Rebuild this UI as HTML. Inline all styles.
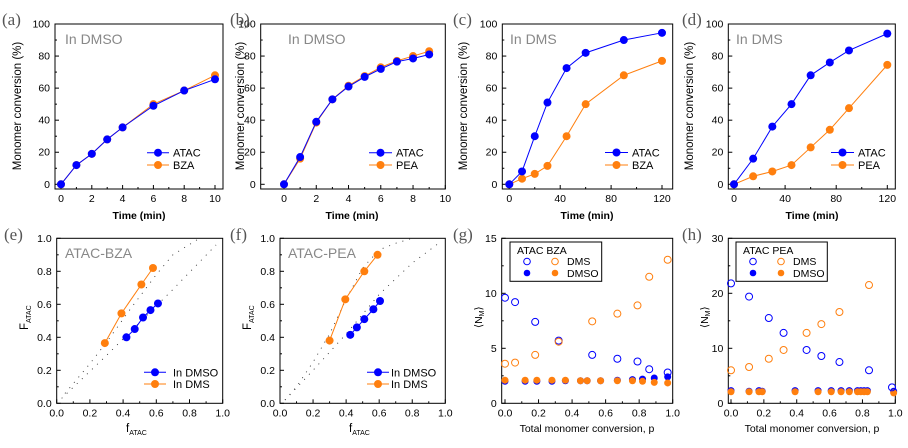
<!DOCTYPE html>
<html><head><meta charset="utf-8"><style>
html,body{margin:0;padding:0;background:#fff;width:908px;height:448px;overflow:hidden}
svg{display:block;font-family:"Liberation Sans",Arial,sans-serif}
</style></head><body>
<svg id="fig" width="908" height="448" viewBox="0 0 908 448" xmlns="http://www.w3.org/2000/svg"></svg>
<script>
// ---- data ----
const aT=[0,1,2,3,4,6,8,10];
const aATAC=[0,12,19,28,35.5,49,58.5,65.5];
const aBZA=[0,12,19,28,35.5,50,58.5,68];
const bT=[0,1,2,3,4,5,6,7,8,9];
const bATAC=[0,17,39,53,61,67,72,76.5,78.5,81];
const bPEA=[0,16,38.5,53,61.5,67.5,73,77,80,83];
const cT=[0,10,20,30,45,60,90,120];
const cATAC=[0,8,30,51,72.5,82,90,94.5];
const cBZA=[0,3.5,6.5,11.5,30,50,68,77];
const dT=[0,15,30,45,60,75,90,120];
const dATAC=[0,16,36,50,68,76,83.5,94];
const dPEA=[0,5,8,12,23,34,47.5,74.5];
const eDMSOf=[0.42,0.47,0.52,0.565,0.61];
const eDMSOF=[0.40,0.45,0.52,0.565,0.605];
const eDMSf=[0.29,0.39,0.51,0.58];
const eDMSF=[0.365,0.545,0.72,0.82];
const eFitLoF=[0.03,0.3,0.5,0.7,0.96];
const eFitLoFF=[0.03,0.29,0.49,0.69,0.96];
const eFitHiF=[0.05,0.2,0.3,0.45,0.6,0.7,0.86];
const eFitHiFF=[0.06,0.24,0.37,0.58,0.78,0.9,1.0];
const fDMSOf=[0.425,0.465,0.51,0.565,0.605];
const fDMSOF=[0.415,0.46,0.51,0.57,0.62];
const fDMSf=[0.30,0.395,0.51,0.59];
const fDMSF=[0.38,0.63,0.80,0.90];
const fFitLoF=[0.03,0.2,0.4,0.6,0.8,0.96];
const fFitLoFF=[0.02,0.2,0.42,0.66,0.85,0.97];
const fFitHiF=[0.03,0.1,0.2,0.3,0.4,0.5,0.6,0.7,0.8];
const fFitHiFF=[0.02,0.1,0.25,0.42,0.63,0.82,0.93,0.97,1.0];
const gOpenP=[0.0,0.06,0.18,0.32,0.52,0.67,0.79,0.86,0.97];
const gOpenATAC=[9.6,9.2,7.4,5.7,4.4,4.05,3.8,3.1,2.8];
const gOpenBZA=[3.6,3.7,4.4,5.6,7.45,8.15,8.9,11.5,13.05];
const gFillP=[0,0.12,0.19,0.28,0.36,0.45,0.49,0.57,0.67,0.76,0.82,0.89,0.97];
const gFillATAC=[2.0,2.0,2.0,2.0,2.05,2.05,2.05,2.05,2.1,2.15,2.2,2.3,2.4];
const gFillBZA=[2.1,2.1,2.1,2.1,2.1,2.05,2.05,2.05,2.05,2.05,2.0,1.9,1.85];
const hOpenP=[0.0,0.11,0.23,0.32,0.46,0.55,0.66,0.84,0.98];
const hOpenATAC=[21.8,19.4,15.5,12.8,9.7,8.6,7.5,6.0,2.9];
const hOpenPEA=[6.0,6.6,8.1,9.7,12.8,14.4,16.6,21.5,2.0];
const hFillP=[0,0.11,0.17,0.19,0.39,0.53,0.61,0.67,0.72,0.77,0.79,0.81,0.83,0.99];
const hFillATAC=[2.3,2.2,2.3,2.2,2.3,2.3,2.3,2.3,2.3,2.3,2.3,2.3,2.3,2.2];
const hFillPEA=[2.1,2.1,2.1,2.1,2.1,2.1,2.1,2.1,2.1,2.1,2.1,2.1,2.1,1.9];
const timeTicksA=[0,2,4,6,8,10];
const timeTicksC=[0,40,80,120];
const convTicks=[0,20,40,60,80,100];
const fracTicks=[0,0.2,0.4,0.6,0.8,1.0];
const gTicks=[0,5,10,15];
const hTicks=[0,10,20,30];

const NS="http://www.w3.org/2000/svg";
const svg=document.getElementById('fig');
const BLUE="#0000ff",ORANGE="#ff7f0e";
function el(tag,attrs,parent,text){const e=document.createElementNS(NS,tag);for(const k in attrs)e.setAttribute(k,attrs[k]);if(text!==undefined)e.textContent=text;(parent||svg).appendChild(e);return e;}
function scale(v0,p0,v1,p1){return v=>p0+(v-v0)*(p1-p0)/(v1-v0);}

function panel(name,box,xs,ys,xticks,yticks,xfmt,yfmt,xminor,yminor){
  const g=el('g',{});
  
  
  const r=el('rect',{x:box[0],y:box[1],width:box[2]-box[0],height:box[3]-box[1],fill:'none',stroke:'#000','stroke-width':1},g);
  
  
  xticks.forEach(t=>{const x=xs(t);
    el('line',{x1:x,x2:x,y1:box[3],y2:box[3]-4,stroke:'#000'},g);
    const tx=el('text',{x:x,y:box[3]+13,'font-size':10.5,'text-anchor':'middle',fill:'#000'},g,xfmt(t));
    
    
  });
  xminor.forEach(t=>{const x=xs(t);el('line',{x1:x,x2:x,y1:box[3],y2:box[3]-2,stroke:'#000'},g);});
  yticks.forEach(t=>{const y=ys(t);
    el('line',{x1:box[0],x2:box[0]+4,y1:y,y2:y,stroke:'#000'},g);
    const tx=el('text',{x:box[0]-5,y:y+3.5,'font-size':10.5,'text-anchor':'end',fill:'#000'},g,yfmt(t));
    
    
  });
  yminor.forEach(t=>{const y=ys(t);el('line',{x1:box[0],x2:box[0]+2,y1:y,y2:y,stroke:'#000'},g);});
  return g;
}
function series(g,xs,ys,X,Y,color,name,line,open,r){
  const s=el('g',{},g);
  
  
  if(line){el('polyline',{points:X.map((v,i)=>xs(v)+','+ys(Y[i])).join(' '),fill:'none',stroke:color,'stroke-width':1},s);}
  X.forEach((v,i)=>{const c=el('circle',{cx:xs(v),cy:ys(Y[i]),r:r||4,fill:open?'none':color,stroke:color,'stroke-width':open?1:0},s);
    
    });
}
function dots(g,xs,ys,X,Y,name){
  const s=el('polyline',{points:X.map((v,i)=>xs(v)+','+ys(Y[i])).join(' '),fill:'none',stroke:'#333','stroke-width':0.9,'stroke-dasharray':'1 6'},g);
  
  
}
function txt(x,y,s,attrs,name){const t=el('text',Object.assign({x:x,y:y},attrs),svg,s);
  
  return t;}
function legend(x1,x2,tx,y,color,label,name){
  const g=el('g',{});
  
  
  el('line',{x1:x1,x2:x2,y1:y,y2:y,stroke:color},g);
  el('circle',{cx:(x1+x2)/2,cy:y,r:4,fill:color},g);
  el('text',{x:tx,y:y+4,'font-size':11,fill:'#000'},g,label);
}
const i0=v=>String(v), f1=v=>v.toFixed(1);
const range=(a,b,s)=>{const o=[];for(let v=a;v<=b+1e-9;v+=s)o.push(+v.toFixed(4));return o;};

function convY(){return scale(0,184.3,100,24);}
// (a)
{const xs=scale(0,61,10,215),ys=convY();
 const g=panel('panel-a',[55,24,223,189],xs,ys,timeTicksA,convTicks,i0,i0,range(1,9,2),range(10,90,20));
 series(g,xs,ys,aT,aBZA,ORANGE,'series-bza',true);
 series(g,xs,ys,aT,aATAC,BLUE,'series-atac',true);
 legend(147,169,173,152.7,BLUE,'ATAC','legend-atac');legend(147,169,173,165,ORANGE,'BZA','legend-bza');}
// (b)
{const xs=scale(0,284,10,445.3),ys=convY();
 const g=panel('panel-b',[260.7,24,445.3,189],xs,ys,timeTicksA,convTicks,i0,i0,range(1,9,2),range(10,90,20));
 series(g,xs,ys,bT,bPEA,ORANGE,'series-pea',true);
 series(g,xs,ys,bT,bATAC,BLUE,'series-atac',true);
 legend(369,392,396,152.7,BLUE,'ATAC','legend-atac');legend(369,392,396,165,ORANGE,'PEA','legend-pea');}
// (c)
{const xs=scale(0,509.3,120,662),ys=convY();
 const g=panel('panel-c',[502.3,24,672.7,189],xs,ys,timeTicksC,convTicks,i0,i0,range(20,100,40),range(10,90,20));
 series(g,xs,ys,cT,cBZA,ORANGE,'series-bza',true);
 series(g,xs,ys,cT,cATAC,BLUE,'series-atac',true);
 legend(605,628,632,152.5,BLUE,'ATAC','legend-atac');legend(605,628,632,165,ORANGE,'BZA','legend-bza');}
// (d)
{const xs=scale(0,734,120,887.3),ys=convY();
 const g=panel('panel-d',[728.3,24,895.3,189],xs,ys,timeTicksC,convTicks,i0,i0,range(20,100,40),range(10,90,20));
 series(g,xs,ys,dT,dPEA,ORANGE,'series-pea',true);
 series(g,xs,ys,dT,dATAC,BLUE,'series-atac',true);
 legend(831,854,858,152.5,BLUE,'ATAC','legend-atac');legend(831,854,858,165,ORANGE,'PEA','legend-pea');}
// (e)
{const xs=scale(0,56.7,1,222.7),ys=scale(0,403.3,1,238.3);
 const g=panel('panel-e',[56.7,238.3,222.7,403.3],xs,ys,fracTicks,fracTicks,f1,f1,range(0.1,0.9,0.2),range(0.1,0.9,0.2));
 dots(g,xs,ys,eFitLoF,eFitLoFF,'fit-curve-dmso');dots(g,xs,ys,eFitHiF,eFitHiFF,'fit-curve-dms');
 series(g,xs,ys,eDMSOf,eDMSOF,BLUE,'series-dmso',true);
 series(g,xs,ys,eDMSf,eDMSF,ORANGE,'series-dms',true);
 legend(144,166,173,372.3,BLUE,'In DMSO','legend-dmso');legend(144,166,173,384,ORANGE,'In DMS','legend-dms');}
// (f)
{const xs=scale(0,280,1,445.3),ys=scale(0,403.3,1,238.3);
 const g=panel('panel-f',[280,238.3,445.3,403.3],xs,ys,fracTicks,fracTicks,f1,f1,range(0.1,0.9,0.2),range(0.1,0.9,0.2));
 dots(g,xs,ys,fFitLoF,fFitLoFF,'fit-curve-dmso');dots(g,xs,ys,fFitHiF,fFitHiFF,'fit-curve-dms');
 series(g,xs,ys,fDMSOf,fDMSOF,BLUE,'series-dmso',true);
 series(g,xs,ys,fDMSf,fDMSF,ORANGE,'series-dms',true);
 legend(367,389,391,372.3,BLUE,'In DMSO','legend-dmso');legend(367,389,391,384,ORANGE,'In DMS','legend-dms');}
// (g)
{const xs=scale(0,505,1,672.7),ys=scale(0,403.3,15,238.3);
 const g=panel('panel-g',[501.7,238.3,672.7,403.3],xs,ys,fracTicks,gTicks,f1,i0,range(0.1,0.9,0.2),range(2.5,12.5,5));
 series(g,xs,ys,gFillP,gFillATAC,BLUE,'series-atac-dmso',false,false,3.5);
 series(g,xs,ys,gFillP,gFillBZA,ORANGE,'series-bza-dmso',false,false,3.5);
 series(g,xs,ys,gOpenP,gOpenATAC,BLUE,'series-atac-dms',false,true,3.5);
 series(g,xs,ys,gOpenP,gOpenBZA,ORANGE,'series-bza-dms',false,true,3.5);}
// (h)
{const xs=scale(0,731,1,895.3),ys=scale(0,403.3,30,238.3);
 const g=panel('panel-h',[728.3,238.3,895.3,403.3],xs,ys,fracTicks,hTicks,f1,i0,range(0.1,0.9,0.2),range(5,25,10));
 series(g,xs,ys,hFillP,hFillATAC,BLUE,'series-atac-dmso',false,false,3.5);
 series(g,xs,ys,hFillP,hFillPEA,ORANGE,'series-pea-dmso',false,false,3.5);
 series(g,xs,ys,hOpenP,hOpenATAC,BLUE,'series-atac-dms',false,true,3.5);
 series(g,xs,ys,hOpenP.slice(0,8),hOpenPEA.slice(0,8),ORANGE,'series-pea-dms',false,true,3.5);}

[[510,242,601.7,281.3,'BZA','legend-g'],[736,242,827.3,281.3,'PEA','legend-h']].forEach(L=>{
  const g=el('g',{});
  
  
  el('rect',{x:L[0],y:L[1],width:L[2]-L[0],height:L[3]-L[1],fill:'#fff',stroke:'#000'},g);
  el('text',{x:L[0]+7,y:L[1]+12,'font-size':10.5},g,'ATAC  '+L[4]);
  el('circle',{cx:L[0]+17,cy:L[1]+19.5,r:3.3,fill:'none',stroke:BLUE},g);
  el('circle',{cx:L[0]+45,cy:L[1]+19.5,r:3.3,fill:'none',stroke:ORANGE},g);
  el('text',{x:L[0]+57,y:L[1]+23,'font-size':10.5},g,'DMS');
  el('circle',{cx:L[0]+17,cy:L[1]+31,r:3.3,fill:BLUE},g);
  el('circle',{cx:L[0]+45,cy:L[1]+31,r:3.3,fill:ORANGE},g);
  el('text',{x:L[0]+57,y:L[1]+35,'font-size':10.5},g,'DMSO');
});

const PL={'font-size':17,fill:'#555','font-family':'"Liberation Serif",serif'};
[['(a)',2,25],['(b)',230,25],['(c)',453,25],['(d)',682,25],['(e)',4,240],['(f)',230,240],['(g)',453,240],['(h)',682,240]]
 .forEach(p=>txt(p[1],p[2],p[0],PL,'panel-label-'+p[0][1]));
const AN={'font-size':14,fill:'#888'};
txt(65,44,'In DMSO',AN,'annotation-a');txt(288,44,'In DMSO',AN,'annotation-b');
txt(510,44,'In DMS',AN,'annotation-c');txt(736,44,'In DMS',AN,'annotation-d');
txt(65,258,'ATAC-BZA',AN,'annotation-e');txt(288,258,'ATAC-PEA',AN,'annotation-f');
[[139,'x-axis-title-a'],[352,'x-axis-title-b'],[587,'x-axis-title-c'],[812,'x-axis-title-d']].forEach(a=>
  txt(a[0],219,'Time (min)',{'font-size':10.5,'font-weight':'bold','text-anchor':'middle'},a[1]));
[[21,'y-axis-title-a'],[244,'y-axis-title-b'],[467,'y-axis-title-c'],[693,'y-axis-title-d']].forEach(a=>
  txt(a[0],106,'Monomer conversion (%)',{'font-size':11.5,'text-anchor':'middle',transform:`rotate(-90 ${a[0]} 106)`},a[1]));
[[134,'x-axis-title-e'],[357,'x-axis-title-f']].forEach(a=>{
  const t=txt(a[0]-8,432,'f',{'font-size':11.5},a[1]);el('tspan',{'font-size':7,dy:3},t,'ATAC');});
[[28,'y-axis-title-e'],[251,'y-axis-title-f']].forEach(a=>{
  const t=txt(a[0],330,'F',{'font-size':11.5,transform:`rotate(-90 ${a[0]} 330)`},a[1]);el('tspan',{'font-size':7,dy:3},t,'ATAC');});
txt(587,432,'Total monomer conversion, p',{'font-size':10.5,'text-anchor':'middle'},'x-axis-title-g');
txt(812,432,'Total monomer conversion, p',{'font-size':10.5,'text-anchor':'middle'},'x-axis-title-h');
[[482,'y-axis-title-g'],[708,'y-axis-title-h']].forEach(a=>{
  const t=txt(a[0],328,'⟨N',{'font-size':10.5,transform:`rotate(-90 ${a[0]} 328)`},a[1]);
  el('tspan',{'font-size':7,dy:2},t,'M');el('tspan',{'font-size':10.5,dy:-2},t,'⟩');});
</script>
</body></html>
